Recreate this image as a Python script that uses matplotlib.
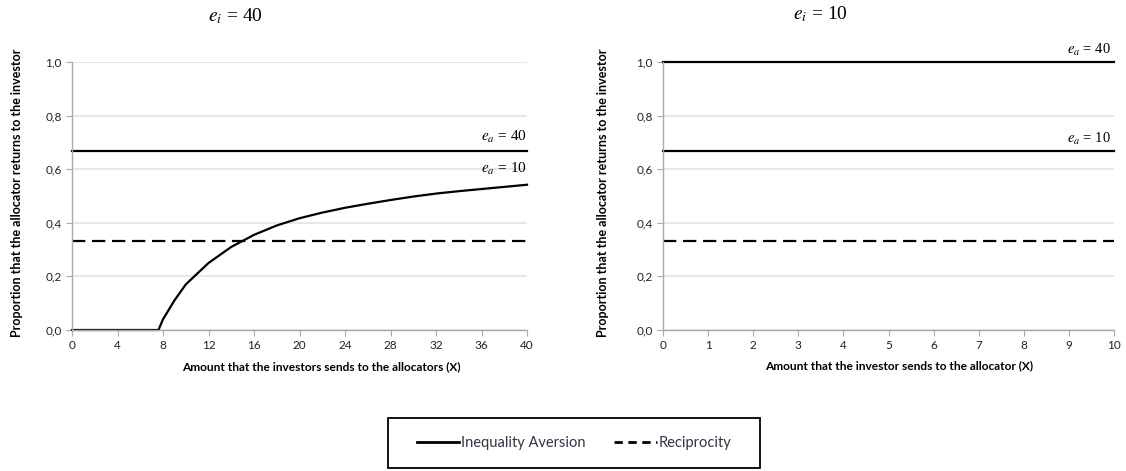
import numpy as np
import matplotlib.pyplot as plt
from matplotlib.patches import Rectangle
from matplotlib.lines import Line2D

plt.rcParams['font.family'] = ['Lato', 'DejaVu Sans']
plt.rcParams['mathtext.fontset'] = 'stix'

# 左图: e_i = 40
x_left = [0, 7.6, 8, 9, 10, 12, 14, 16, 18, 20, 22, 24, 26, 28, 30, 32, 34, 36, 38, 40]
ia_ea10_left = [0, 0, 0.04, 0.11, 0.17, 0.25, 0.31, 0.355, 0.39, 0.417, 0.438, 0.456,
                0.471, 0.485, 0.498, 0.509, 0.518, 0.526, 0.534, 0.542]
ia_ea40_left = 0.667
recip_left = 0.333
xticks_left = list(range(0, 41, 4))

# 右图: e_i = 10
x_right = [0, 10]
ia_ea40_right = 1.0
ia_ea10_right = 0.667
recip_right = 0.333
xticks_right = list(range(0, 11))

yticks = [0.0, 0.2, 0.4, 0.6, 0.8, 1.0]
ytick_labels = ['0,0', '0,2', '0,4', '0,6', '0,8', '1,0']

W, H = 1126, 471
fig = plt.figure(figsize=(W / 100, H / 100), dpi=100)

def px(x0, y0, x1, y1):
    return [x0 / W, 1 - y1 / H, (x1 - x0) / W, (y1 - y0) / H]

ax1 = fig.add_axes(px(72, 62, 527, 330))
ax2 = fig.add_axes(px(663, 62, 1114, 330))

dash = (0, (6, 3))
lw = 1.6

def style(ax, xmax, xticks):
    ax.set_xlim(0, xmax)
    ax.set_ylim(0, 1.0)
    ax.set_xticks(xticks)
    ax.set_yticks(yticks)
    ax.set_yticklabels(ytick_labels)
    ax.tick_params(labelsize=8.5, colors='#222222', length=4, width=0.8)
    ax.tick_params(axis='both', color='#aaaaaa')
    for s in ['top', 'right']:
        ax.spines[s].set_visible(False)
    for s in ['left', 'bottom']:
        ax.spines[s].set_color('#aaaaaa')
        ax.spines[s].set_linewidth(1)
    ax.grid(axis='y', color='#e3e3e3', lw=1.2)
    ax.set_axisbelow(True)

style(ax1, 40, xticks_left)
style(ax2, 10, xticks_right)

# 左图曲线
ax1.plot([0, 40], [ia_ea40_left] * 2, color='black', lw=lw, clip_on=False)
ax1.plot(x_left, ia_ea10_left, color='black', lw=lw, clip_on=False)
ax1.plot([0, 40], [recip_left] * 2, color='black', lw=lw, linestyle=dash)
ax1.text(38.0, ia_ea40_left + 0.025, r'$e_a$ = 40', ha='center', va='bottom',
         fontsize=11, family='Liberation Serif')
ax1.text(38.0, 0.57, r'$e_a$ = 10', ha='center', va='bottom',
         fontsize=11, family='Liberation Serif')

# 右图曲线
ax2.plot(x_right, [ia_ea40_right] * 2, color='black', lw=lw, clip_on=False)
ax2.plot(x_right, [ia_ea10_right] * 2, color='black', lw=lw, clip_on=False)
ax2.plot(x_right, [recip_right] * 2, color='black', lw=lw, linestyle=dash)
ax2.text(9.45, ia_ea40_right + 0.015, r'$e_a$ = 40', ha='center', va='bottom',
         fontsize=10.5, family='Liberation Serif')
ax2.text(9.45, ia_ea10_right + 0.015, r'$e_a$ = 10', ha='center', va='bottom',
         fontsize=10.5, family='Liberation Serif')

# 标题
fig.text(235 / W, 1 - 16 / H, r'$e_i$ = 40', ha='center', va='center',
         fontsize=14, family='Liberation Serif')
fig.text(820 / W, 1 - 14 / H, r'$e_i$ = 10', ha='center', va='center',
         fontsize=14, family='Liberation Serif')

# 轴标签
ylab = 'Proportion that the allocator returns to the investor'
fig.text(17 / W, 1 - 193 / H, ylab, rotation=90, ha='center', va='center',
         fontsize=9, fontweight='bold')
fig.text(603 / W, 1 - 193 / H, ylab, rotation=90, ha='center', va='center',
         fontsize=9, fontweight='bold')
fig.text(321 / W, 1 - 367 / H, 'Amount that the investors sends to the allocators (X)',
         ha='center', va='center', fontsize=8.6, fontweight='bold')
fig.text(899 / W, 1 - 366 / H, 'Amount that the investor sends to the allocator (X)',
         ha='center', va='center', fontsize=8.6, fontweight='bold')

# 图例
fig.patches.append(Rectangle((388 / W, 1 - 468 / H), 372 / W, 50 / H,
                             transform=fig.transFigure, fill=False,
                             edgecolor='black', lw=1.3))
handles = [Line2D([], [], color='black', lw=2),
           Line2D([], [], color='black', lw=2, linestyle=(0, (3, 2)))]
fig.legend(handles, ['Inequality Aversion', 'Reciprocity'], loc='center',
           bbox_to_anchor=(574 / W, 1 - 443 / H), ncol=2, frameon=False,
           fontsize=10.5, handlelength=2.9, handletextpad=0.1, columnspacing=2.0,
           labelcolor='#333344')

plt.savefig('out.png', dpi=100)
